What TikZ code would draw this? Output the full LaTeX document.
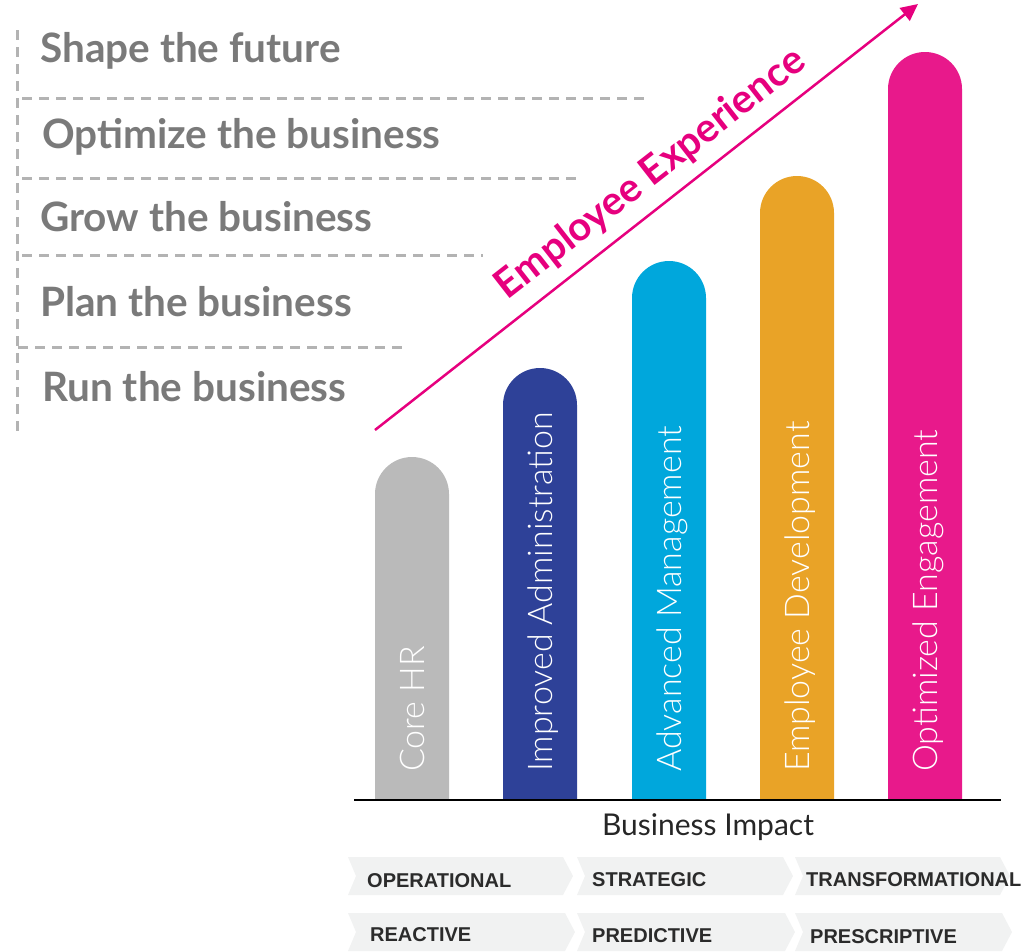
\documentclass[tikz,border=0pt]{standalone}
\usepackage{fontspec}
\setmainfont{Lato}
\newfontfamily\thinfont{Lato Light}
\newfontfamily\tagfont{Liberation Sans}
\usetikzlibrary{arrows.meta}

\definecolor{levelgray}{HTML}{7A7A7A}
\definecolor{dashgray}{HTML}{B3B3B3}
\definecolor{expmagenta}{HTML}{E6007E}
\definecolor{coregray}{HTML}{BABABA}
\definecolor{adminblue}{HTML}{2E4198}
\definecolor{mgmtcyan}{HTML}{00A7DC}
\definecolor{devorange}{HTML}{E9A327}
\definecolor{engpink}{HTML}{E8198B}
\definecolor{tagfill}{HTML}{F1F2F2}
\definecolor{tagtext}{HTML}{2B2B2B}

% rounded bar: left x, top y, colour
\newcommand{\impactbar}[3]{%
  \fill[#3] (#1,800) -- (#1,#2+37) arc[start angle=180,end angle=360,radius=37] -- (#1+74,800) -- cycle;}
% chevron: left x, top y, body width
\newcommand{\chevron}[3]{%
  \fill[tagfill] (#1,#2) -- (#1+#3,#2) -- (#1+#3+10,#2+19) -- (#1+#3,#2+38) -- (#1,#2+38) -- (#1+8,#2+19) -- cycle;}

\begin{document}
\begin{tikzpicture}[x=1pt,y=-1pt,
    level/.style={anchor=base west, inner sep=0pt, text=levelgray, font=\fontsize{40.5}{42}\selectfont\bfseries},
    divider/.style={dashgray, line width=3pt, dash pattern=on 10pt off 7pt},
    barlabel/.style={rotate=90, anchor=base west, inner sep=0pt, text=white, font=\thinfont\fontsize{34}{36}\selectfont},
    tag/.style={anchor=base west, inner sep=0pt, text=tagtext, font=\tagfont\fontsize{20}{22}\selectfont\bfseries}]
    \useasboundingbox (0,0) rectangle (1024,951);

    % levels on the left
    \draw[divider] (17,30) -- (17,432);
    \draw[divider] (22,98) -- (650,98);
    \draw[divider] (22,178) -- (578,178);
    \draw[divider] (22,255) -- (483,255);
    \draw[divider] (18,347) -- (405,347);
    \node[level] (future) at (40,62) {Shape the future};
    \node[level] (optimize) at (42,148) {Optimize the business};
    \node[level] (grow) at (40,231) {Grow the business};
    \node[level] (plan) at (40,316) {Plan the business};
    \node[level] (run) at (42,401) {Run the business};

    % bars
    \foreach \x/\ytop/\col/\name/\txt in {375/457/coregray/core/Core HR,
        503/368/adminblue/admin/Improved Administration,
        632/261/mgmtcyan/mgmt/Advanced Management,
        760/176/devorange/dev/Employee Development,
        888/52/engpink/eng/Optimized Engagement}{
      \impactbar{\x}{\ytop}{\col}
      \node[barlabel] (\name) at (\x+49,772) {\txt};
    }

    % experience arrow
    \coordinate (expstart) at (375,430);
    \coordinate (exptip) at (918,4);
    \draw[expmagenta, line width=2.5pt, -{Triangle[length=17pt,width=16pt]}] (expstart) -- (exptip);
    \node[rotate=38, text=expmagenta, font=\fontsize{40}{42}\selectfont\bfseries] (exp) at (651,174) {Employee Experience};

    % axis
    \coordinate (axisleft) at (354,800);
    \coordinate (axisright) at (1001,800);
    \draw[line width=1.5pt] (axisleft) -- (axisright);
    \node[anchor=base, inner sep=0pt, text=black!85, font=\fontsize{30}{32}\selectfont] (impact) at (708,835) {Business Impact};

    % chevrons
    \chevron{348}{857}{215}
    \chevron{577}{857}{206}
    \chevron{795}{857}{205}
    \chevron{348}{913}{217}
    \chevron{577}{913}{208}
    \chevron{795}{913}{207}
    \node[tag] (operational) at (367,887) {OPERATIONAL};
    \node[tag] (strategic) at (592,886) {STRATEGIC};
    \node[tag] (transformational) at (806,886) {TRANSFORMATIONAL};
    \node[tag] (reactive) at (370,941) {REACTIVE};
    \node[tag] (predictive) at (592,942) {PREDICTIVE};
    \node[tag] (prescriptive) at (810,943) {PRESCRIPTIVE};
\end{tikzpicture}
\end{document}
